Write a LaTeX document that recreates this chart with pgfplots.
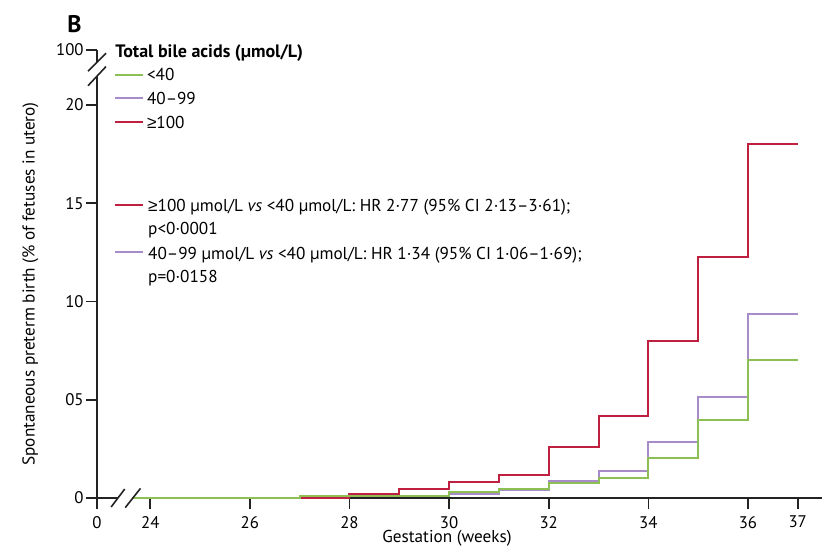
\documentclass[border=0pt]{standalone}
\usepackage{fontspec}
\setmainfont{PT Sans}
\newfontfamily\symfont{Liberation Sans}
\newcommand\GEsym{{\symfont ≥}}
\usepackage{pgfplots}
\pgfplotsset{compat=1.18}

\definecolor{cgreen}{RGB}{141,192,84}
\definecolor{cpurple}{RGB}{168,140,202}
\definecolor{cred}{RGB}{192,32,64}
\definecolor{axcol}{RGB}{35,35,35}

\newcommand\At[2]{([shift={(#1pt,#2pt)}]ax.south west)}

\begin{document}
\begin{tikzpicture}[font=\fontsize{8.6}{10}\selectfont]
\begin{axis}[
  name=ax, scale only axis, width=362.3pt, height=224pt,
  xmin=22.93, xmax=37.48, ymin=0, ymax=22.8,
  axis lines=left,
  x axis line style={-}, y axis line style={-},
  axis line style={axcol, line width=0.8pt},
  tick style={axcol, line width=0.8pt},
  tick align=outside, major tick length=5.5pt,
  xtick={22.93,24,26,28,30,32,34,36,37},
  xticklabels={0,24,26,28,30,32,34,36,37},
  ytick={0,5,10,15,20,22.8},
  yticklabels={0,05,10,15,20,100},
  ticklabel style={font=\fontsize{8.4}{10}\selectfont},
  yticklabel style={inner xsep=1pt},
  /pgf/number format/assume math mode=true,
  clip=false,
  after end axis/.code={
    \draw[white, line width=3pt] (axis cs:22.93,21.47) -- (axis cs:22.93,22.18);
    \draw[white, line width=3pt] (axis cs:23.35,0) -- (axis cs:23.65,0);
    \draw[axcol, line width=0.8pt] (axis cs:22.93,22.18) ++(-4.5pt,-4.5pt) -- ++(9pt,9pt);
    \draw[axcol, line width=0.8pt] (axis cs:22.93,21.47) ++(-4.5pt,-4.8pt) -- ++(9pt,9.6pt);
    \draw[axcol, line width=0.8pt] (axis cs:23.35,0) ++(-3.4pt,-4.5pt) -- ++(6.8pt,9pt);
    \draw[axcol, line width=0.8pt] (axis cs:23.65,0) ++(-3.8pt,-4.8pt) -- ++(7.6pt,9.6pt);
  },
]
\addplot[const plot, cred, line width=1pt] coordinates {
  (23.65,0) (28,0.2) (29,0.44) (30,0.83) (31,1.17) (32,2.61)
  (33,4.16) (34,7.99) (35,12.25) (36,18.0) (37,18.0)};
\addplot[const plot, cpurple, line width=1pt] coordinates {
  (23.65,0) (27,0.08) (30,0.22) (31,0.4) (32,0.88) (33,1.37)
  (34,2.85) (35,5.15) (36,9.35) (37,9.35)};
\addplot[const plot, cgreen, line width=1pt] coordinates {
  (23.65,0) (27,0.1) (30,0.29) (31,0.46) (32,0.75) (33,1.0)
  (34,2.05) (35,3.95) (36,7.0) (37,7.0)};
\end{axis}

% panel letter
\node[font=\fontsize{12}{14}\selectfont\bfseries, inner sep=0] at \At{-11.25}{237} {B};
% legend
\node[anchor=base west, inner sep=0, font=\fontsize{9}{10.5}\selectfont\bfseries] at \At{9}{220.5} {Total bile acids (µmol/L)};
\draw[cgreen, line width=1pt] \At{9}{211.5} -- \At{23}{211.5};
\node[anchor=base west, inner sep=0] at \At{24.8}{209} {<40};
\draw[cpurple, line width=1pt] \At{9}{199.85} -- \At{23}{199.85};
\node[anchor=base west, inner sep=0] at \At{24.8}{197} {40–99};
\draw[cred, line width=1pt] \At{9}{187.85} -- \At{23}{187.85};
\node[anchor=base west, inner sep=0] at \At{24.8}{184.85} {\GEsym100};
% annotations
\draw[cred, line width=1pt] \At{9}{146.5} -- \At{23}{146.5};
\node[anchor=base west, inner sep=0] at \At{25.4}{143.25} {\GEsym100 µmol/L \textit{vs} <40 µmol/L: HR 2·77 (95\% CI 2·13–3·61);};
\node[anchor=base west, inner sep=0] at \At{25.4}{131.75} {p<0·0001};
\draw[cpurple, line width=1pt] \At{9}{123.15} -- \At{23}{123.15};
\node[anchor=base west, inner sep=0] at \At{25.4}{119.5} {40–99 µmol/L \textit{vs} <40 µmol/L: HR 1·34 (95\% CI 1·06–1·69);};
\node[anchor=base west, inner sep=0] at \At{25.4}{107.85} {p=0·0158};
% axis labels
\node[rotate=90, inner sep=0] at \At{-33.25}{107} {Spontaneous preterm birth (\% of fetuses in utero)};
\node[anchor=base, inner sep=0] at \At{175}{-22.3} {Gestation (weeks)};

\pgfresetboundingbox
\path \At{-48.5}{-25} rectangle \At{368}{249};
\end{tikzpicture}
\end{document}
